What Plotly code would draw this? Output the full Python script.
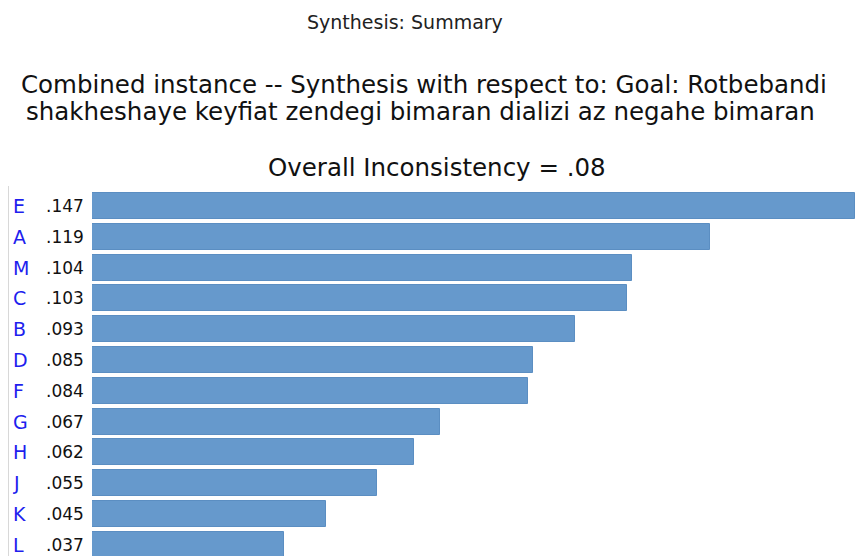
import plotly.graph_objects as go

labels = ["E", "A", "M", "C", "B", "D", "F", "G", "H", "J", "K", "L"]
values = [0.147, 0.119, 0.104, 0.103, 0.093, 0.085, 0.084, 0.067, 0.062, 0.055, 0.045, 0.037]
value_text = [".147", ".119", ".104", ".103", ".093", ".085", ".084", ".067", ".062", ".055", ".045", ".037"]

W, H = 864, 556
OFF = 8  # page body margin offset
FONT = "DejaVu Sans, Liberation Sans, Arial, sans-serif"


def px(sx):
    return (sx - OFF) / W


def py(sy):
    return 1 - (sy - OFF) / H


pos = list(range(len(labels)))
fig = go.Figure(go.Bar(
    x=values, y=pos, orientation="h", width=0.84,
    marker=dict(color="#6699cc", line=dict(color="#5b8ec2", width=1)),
    hoverinfo="skip",
))

pitch = 30.8
y0 = 206 - OFF
top_f, bot_f = 190 - OFF, H
r_top = (top_f - y0) / pitch
r_bot = (bot_f - y0) / pitch

fig.update_layout(
    width=W, height=H, margin=dict(l=0, r=0, t=0, b=0),
    paper_bgcolor="white", plot_bgcolor="white", showlegend=False,
    xaxis=dict(domain=[px(92), px(855)], range=[0, 0.147], visible=False, fixedrange=True),
    yaxis=dict(domain=[0, 1 - top_f / H], range=[r_bot, r_top], visible=False, fixedrange=True),
    bargap=0,
)

annotations = []
for i, (lab, vt) in enumerate(zip(labels, value_text)):
    annotations.append(dict(x=px(11), y=i, xref="paper", yref="y", text=lab, showarrow=False,
                            xanchor="left", yanchor="middle",
                            font=dict(family=FONT, size=19, color="#1f1fee")))
    annotations.append(dict(x=px(86), y=i, xref="paper", yref="y", text=vt, showarrow=False,
                            xanchor="right", yanchor="middle",
                            font=dict(family=FONT, size=17, color="#111111")))

annotations.append(dict(x=px(405), y=py(22), xref="paper", yref="paper", text="Synthesis: Summary",
                        showarrow=False, xanchor="center", yanchor="middle",
                        font=dict(family=FONT, size=19, color="#222222")))
annotations.append(dict(x=px(424), y=py(84), xref="paper", yref="paper",
                        text="Combined instance -- Synthesis with respect to: Goal: Rotbebandi",
                        showarrow=False, xanchor="center", yanchor="middle", borderpad=0,
                        font=dict(family=FONT, size=24.5, color="#111111")))
annotations.append(dict(x=px(420), y=py(112), xref="paper", yref="paper",
                        text="shakheshaye keyfiat zendegi bimaran dializi az negahe bimaran",
                        showarrow=False, xanchor="center", yanchor="middle", borderpad=0,
                        font=dict(family=FONT, size=24.5, color="#111111")))
annotations.append(dict(x=px(437), y=py(167), xref="paper", yref="paper",
                        text="Overall Inconsistency = .08",
                        showarrow=False, xanchor="center", yanchor="middle",
                        font=dict(family=FONT, size=24.5, color="#111111")))
fig.update_layout(annotations=annotations)

fig.add_shape(type="line", xref="paper", yref="paper", x0=px(8.5), x1=px(8.5),
              y0=0, y1=py(186), line=dict(color="#d8d8d8", width=1))

fig.write_html("out.html")
